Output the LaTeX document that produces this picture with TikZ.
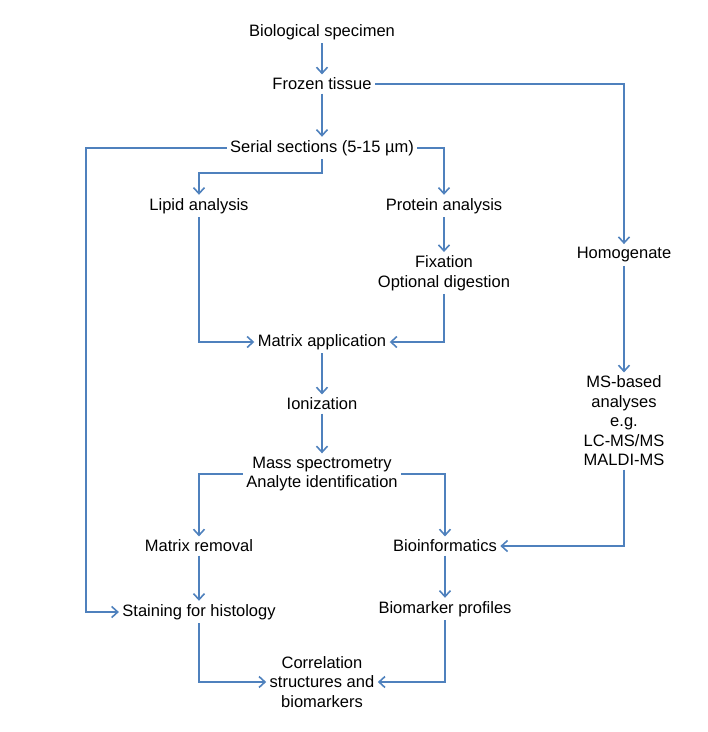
\documentclass[tikz,border=0pt]{standalone}
\usepackage{fontspec}
\setmainfont{Liberation Sans}
\usetikzlibrary{arrows, arrows.meta}
\definecolor{flowblue}{RGB}{79,129,189}

\begin{document}
\begin{tikzpicture}[x=1pt, y=-1pt,
		every node/.style={align=center, font=\fontsize{16.5}{19.5}\selectfont},
		arr/.style={draw=flowblue, line width=1.6pt, -{Straight Barb[length=6pt, width=11pt]}}]
			
			\useasboundingbox (0,0) rectangle (708,732);
			
			\draw(322,32) node(bio){Biological specimen};
			\draw(322,84) node(frozen){Frozen tissue};
			\draw(322,148) node(serial){Serial sections (5-15 \textmu m)};
			\draw(199,206) node(lipid){Lipid analysis};
			\draw(444,206) node(protein){Protein analysis};
			\draw(444,273) node(fix){Fixation\\Optional digestion};
			\draw(322,342) node(matapp){Matrix application};
			\draw(322,404) node(ion){Ionization};
			\draw(322,474) node(mass){Mass spectrometry\\Analyte identification};
			\draw(199,546) node(matrem){Matrix removal};
			\draw(445,546) node(bioinf){Bioinformatics};
			\draw(199,612) node(stain){Staining for histology};
			\draw(445,609) node(profiles){Biomarker profiles};
			\draw(322,682) node(corr){Correlation\\structures and\\biomarkers};
			\draw(624,255) node(homog){Homogenate};
			\draw(624,421) node(msb){MS-based\\analyses\\e.g.\\LC-MS/MS\\MALDI-MS};
			
			\coordinate (left) at (86,148);
			
			
			\draw[arr] (bio) -- (frozen);
			\draw[arr] (frozen) -- (serial);
			\draw[arr] (frozen.east) -| (homog.north);
			\draw[arr] (serial.south) -- ++(0,14) -| (lipid.north);
			\draw[arr] (serial.east) -| (protein.north);
			\draw[arr] (serial.west) -- (left) |- (stain.west);
			\draw[arr] (protein) -- (fix);
			\draw[arr] (lipid.south) |- (matapp.west);
			\draw[arr] (fix.south) |- (matapp.east);
			\draw[arr] (matapp) -- (ion);
			\draw[arr] (ion) -- (mass);
			\draw[arr] (mass.west) -| (matrem.north);
			\draw[arr] (mass.east) -| (bioinf.north);
			\draw[arr] (homog) -- (msb);
			\draw[arr] (msb.south) |- (bioinf.east);
			\draw[arr] (matrem) -- (stain);
			\draw[arr] (bioinf) -- (profiles);
			\draw[arr] (stain.south) |- (corr.west);
			\draw[arr] (profiles.south) |- (corr.east);
		\end{tikzpicture}
\end{document}
